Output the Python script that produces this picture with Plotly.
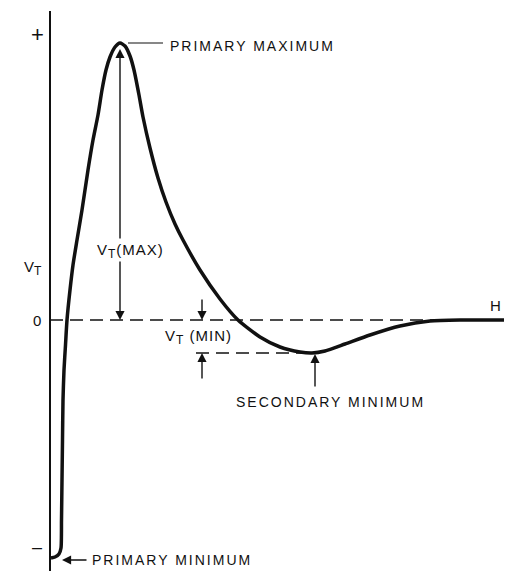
import plotly.graph_objects as go

# Total interaction energy V_T against separation H.
distance = [1, 5, 9, 11, 11.5, 12, 12.5, 13, 14, 15.5, 17, 20, 23, 27, 32, 38, 43, 48,
            52, 56, 60, 65, 70, 75, 80, 84, 89, 93, 100, 108, 116, 125, 133, 150, 170, 188,
            210, 230, 250, 262, 275, 295, 320, 350, 380, 410, 462]
energy = [-238, -237, -234, -228, -200, -160, -120, -80, -50, -25, 0, 30, 55, 80, 110,
          150, 180, 205, 230, 250, 263, 273, 277, 274, 264, 250, 225, 203, 172, 142, 118,
          96, 80, 50, 21, 0, -17, -27, -32, -33, -31, -24, -15, -6, -1, 0, 0]

# Tick labels on the V_T axis
tick_vals = [286, 0, -227]
tick_text = ["+", "0", "\u2013"]

# Find the primary maximum and the secondary minimum
i_max = energy.index(max(energy))
x_peak, v_max = distance[i_max], energy[i_max]
i_min = energy.index(min(energy[i_max:]), i_max)
x_smin, v_min = distance[i_min], energy[i_min]
x_pmin, v_pmin = distance[0], energy[0]

ink = "#111111"
font = dict(family="Liberation Sans, Arial, sans-serif", size=14, color=ink)


def spaced(s, px=2):
    return '<span style="letter-spacing:%dpx">' % px + s + "</span>"


fig = go.Figure()
fig.add_trace(go.Scatter(x=distance, y=energy, mode="lines",
                         line=dict(color=ink, width=3.5, shape="spline", smoothing=0.6),
                         hoverinfo="skip"))

# axis and dashed reference lines
fig.add_shape(type="line", x0=0, x1=0, y0=-260, y1=309, line=dict(color=ink, width=2))
fig.add_shape(type="line", x0=0, x1=distance[-1], y0=0, y1=0,
              line=dict(color=ink, width=1.5, dash="13px,7px"))
fig.add_shape(type="line", x0=x_smin - 116, x1=x_smin, y0=v_min, y1=v_min,
              line=dict(color=ink, width=1.5, dash="13px,7px"))
# leader to the primary maximum
fig.add_shape(type="line", x0=x_peak + 8, x1=x_peak + 43, y0=v_max, y1=v_max,
              line=dict(color=ink, width=1.2))


def arrow(x, y, ax, ay):
    fig.add_annotation(x=x, y=y, ax=ax, ay=ay, xref="x", yref="y", axref="x", ayref="y",
                       text="", showarrow=True, arrowhead=2, arrowsize=1.3,
                       arrowwidth=1.4, arrowcolor=ink, standoff=0)


# V_T(MAX)
arrow(x_peak, v_max - 6, x_peak, 80)
arrow(x_peak, 0, x_peak, 60)
# V_T(MIN)
arrow(152, 0, 152, 22)
arrow(152, v_min, 152, -60)
# secondary minimum
arrow(x_smin + 3, v_min - 1, x_smin + 3, -68)
# primary minimum
arrow(x_pmin + 11, v_pmin - 2, 38, v_pmin - 2)

sub_t = '<sub><span style="font-size:12px">T</span></sub>'
labels = [
    (x_peak + 48, v_max - 3, spaced("PRIMARY MAXIMUM"), "left", 14),
    (40, v_pmin - 2, spaced("PRIMARY MINIMUM"), "left", 14),
    (280, -82, spaced("SECONDARY MINIMUM"), "center", 14),
    (80, 69, spaced("V" + sub_t + "(MAX)", 1), "center", 15),
    (148, -17, spaced("V" + sub_t + " (MIN)", 1), "center", 15),
    (445, 15, "H", "center", 15),
    (-17, 52, "V" + sub_t, "center", 15),
]
for x, y, t, anc, sz in labels:
    fig.add_annotation(x=x, y=y, xref="x", yref="y", text=t, showarrow=False,
                       xanchor=anc, yanchor="middle", font=dict(font, size=sz))

for v, t in zip(tick_vals, tick_text):
    fig.add_annotation(x=-13, y=v, xref="x", yref="y", text=t, showarrow=False,
                       font=dict(font, size={"+": 22, "0": 15}.get(t, 18)))

# the page body has an 8px margin, so the figure is 8px smaller and starts at (8, 8)
fig.update_layout(width=504, height=563, margin=dict(l=0, r=0, t=0, b=0),
                  paper_bgcolor="white", plot_bgcolor="white", showlegend=False)
fig.update_xaxes(range=[-42, 462], visible=False)
fig.update_yaxes(range=[-251, 312], visible=False)

fig.write_html("out.html")
